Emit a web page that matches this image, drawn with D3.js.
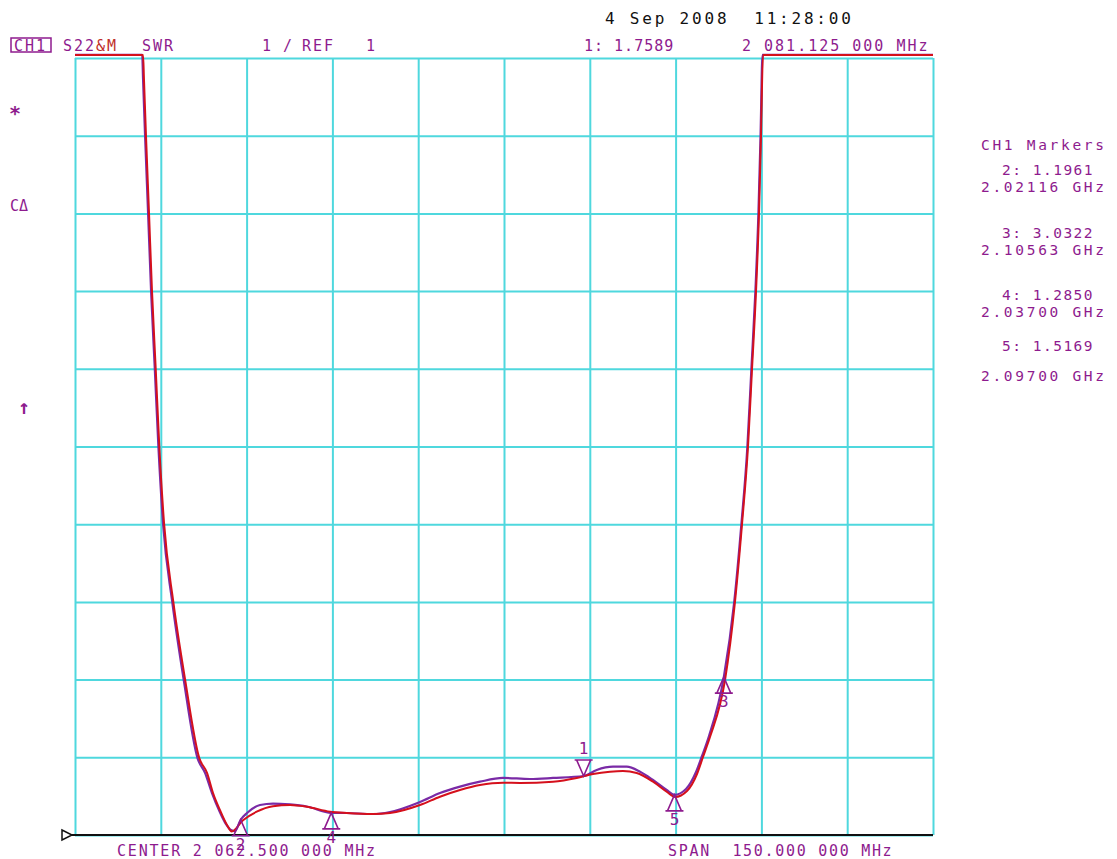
<!DOCTYPE html>
<html>
<head>
  <meta charset="utf-8">
  <style>
    body {
      margin: 0;
      background-color: #ffffff;
    }
    svg {
      display: block;
      background-color: #ffffff;
    }
    text {
      font-family: "DejaVu Sans Mono", monospace;
      white-space: pre;
    }
  </style>
</head>
<body>

  <div id="chart_swr"></div>

  <script src="https://d3js.org/d3.v7.min.js"></script>
  <script>

    // trace values: frequency (MHz) / SWR
    // 11.04 = trace pinned above the top of the screen
    var freqMem = [1992.2, 2004.1, 2004.26, 2004.61, 2005.14, 2005.66, 2006.31, 2006.94, 2007.76, 2009.39,
      2011.43, 2013.93, 2015.28, 2016.33, 2017.55, 2018.77, 2019.6, 2021.57, 2023.97, 2026.82,
      2029.79, 2032.71, 2036.78, 2039.7, 2044.3, 2047.27, 2052.51, 2056.01, 2059.51, 2063.0,
      2067.03, 2070.0, 2075.77, 2079.91, 2082.76, 2085.73, 2088.0, 2090.4, 2093.25, 2095.64,
      2097.1, 2099.19, 2100.94, 2101.99, 2103.21, 2105.84, 2107.58, 2108.81, 2109.86, 2110.56,
      2111.26, 2111.78, 2112.13, 2112.48, 2142.2]
    var swrMem = [11.04, 11.04, 10.72, 10.0, 9.0, 8.0, 7.0, 6.0, 5.02, 4.0,
      3.01, 1.99, 1.80, 1.54, 1.32, 1.13, 1.045, 1.19, 1.30, 1.37,
      1.386, 1.364, 1.30, 1.283, 1.27, 1.283, 1.386, 1.493, 1.579, 1.643,
      1.673, 1.669, 1.686, 1.734, 1.785, 1.815, 1.824, 1.798, 1.686, 1.557,
      1.489, 1.566, 1.785, 2.004, 2.261, 2.995, 4.0, 5.0, 6.0, 7.0,
      8.0, 9.0, 10.0, 11.04, 11.04]

    var freqData = [1992.2, 2003.95, 2004.1, 2004.45, 2004.98, 2005.5, 2006.15, 2006.78, 2007.6, 2009.2,
      2011.2, 2013.62, 2014.93, 2016.15, 2017.37, 2018.6, 2019.47, 2020.17, 2021.16, 2022.27,
      2024.54, 2026.82, 2029.79, 2032.71, 2037.0, 2039.7, 2044.3, 2047.27, 2052.51, 2056.01,
      2059.51, 2063.0, 2067.03, 2071.75, 2075.77, 2081.125, 2083.41, 2086.26, 2088.65, 2090.98,
      2093.25, 2095.64, 2097.0, 2099.02, 2100.77, 2101.82, 2103.04, 2105.63, 2107.45, 2108.7,
      2109.75, 2110.45, 2111.15, 2111.68, 2112.05, 2112.4, 2142.2]
    var swrData = [11.04, 11.04, 10.72, 10.0, 9.0, 8.0, 7.0, 6.0, 5.0, 4.0,
      3.0, 1.99, 1.80, 1.54, 1.32, 1.14, 1.064, 1.05, 1.1961, 1.283,
      1.386, 1.405, 1.393, 1.367, 1.285, 1.283, 1.27, 1.296, 1.425, 1.54,
      1.622, 1.686, 1.734, 1.721, 1.734, 1.7589, 1.837, 1.879, 1.879, 1.815,
      1.708, 1.579, 1.5169, 1.592, 1.811, 2.017, 2.274, 3.0322, 4.0, 5.0,
      6.0, 7.0, 8.0, 9.0, 10.0, 11.04, 11.04]

    // markers
    var markerIds = ["1", "2", "3", "4", "5"]
    var markerFreqs = [2081.125, 2021.16, 2105.63, 2037.0, 2097.0]
    var markerSwrs = [1.7589, 1.1961, 3.0322, 1.2850, 1.5169]
    var markerPointDown = [true, false, false, false, false]

    // grid: 10 divisions each way
    var freqStart = 1992.2
    var freqPerDiv = 15
    var swrRef = 1
    var swrPerDiv = 1

    var headerTexts = ["CH1", "S22", "&M", "SWR", "1", "/", "REF", "1", "1: 1.7589", "2 081.125 000 MHz"]
    var dateText = "4 Sep 2008  11:28:00"
    var footerTexts = ["CENTER 2 062.500 000 MHz", "SPAN  150.000 000 MHz"]
    var markerListLines = ["CH1 Markers", "2: 1.1961", "2.02116 GHz", "3: 3.0322", "2.10563 GHz",
      "4: 1.2850", "2.03700 GHz", "5: 1.5169", "2.09700 GHz"]
    var sideSymbols = ["*", "C\u0394", "\u2191"]

    var purple = "#8e1b8e"
    var traceRed = "#d5101c"
    var tracePurple = "#7a2aa6"
    var gridCyan = "#4fd8de"

    var draw_chart = function () {
      var left = 75, right = 933, top = 58, bottom = 835

      d3.selectAll('svg').remove()

      var svg = d3.select("#chart_swr")
          .append('svg')
          .attr("width", 1117)
          .attr("height", 859)

      var x = d3.scaleLinear()
          .domain([freqStart, freqStart + 10 * freqPerDiv])
          .range([left, right])

      var y = d3.scaleLinear()
          .domain([swrRef, swrRef + 10 * swrPerDiv])
          .range([bottom, top])

      var xTicks = d3.range(11).map(i => freqStart + i * freqPerDiv)
      var yTicks = d3.range(11).map(i => swrRef + i * swrPerDiv)

      // grid through the axes
      svg.append("g")
          .attr("transform", "translate(0," + bottom + ")")
          .call(d3.axisBottom(x).tickValues(xTicks).tickSize(-(bottom - top)).tickFormat(""))
      svg.append("g")
          .attr("transform", "translate(" + left + ",0)")
          .call(d3.axisLeft(y).tickValues(yTicks).tickSize(-(right - left)).tickFormat(""))
      svg.selectAll(".domain").remove()
      svg.selectAll(".tick line")
          .attr("stroke", gridCyan)
          .attr("stroke-width", 2)

      // bottom reference line with its little arrow
      svg.append("line")
          .attr("x1", left - 7).attr("x2", right)
          .attr("y1", y(swrRef)).attr("y2", y(swrRef))
          .attr("stroke", "#111")
          .attr("stroke-width", 2)
      svg.append("path")
          .attr("d", "M" + (left - 13) + "," + (y(swrRef) - 5) + " L" + (left - 3) + "," + y(swrRef) +
              " L" + (left - 13) + "," + (y(swrRef) + 5) + " Z")
          .attr("fill", "#fff")
          .attr("stroke", "#111")
          .attr("stroke-width", 1.5)

      var line = d3.line()
          .curve(d3.curveMonotoneX)
          .x(d => x(d[0]))
          .y(d => y(d[1]))

      var dataPts = freqData.map((f, i) => [f, swrData[i]])
      var memPts = freqMem.map((f, i) => [f, swrMem[i]])

      svg.append("path")
          .datum(dataPts)
          .attr("d", line)
          .attr("fill", "none")
          .attr("stroke", tracePurple)
          .attr("stroke-width", 2.2)

      svg.append("path")
          .datum(memPts)
          .attr("d", line)
          .attr("fill", "none")
          .attr("stroke", traceRed)
          .attr("stroke-width", 2)

      // marker triangles
      var markers = markerIds.map((id, i) => ({
        id: id, f: markerFreqs[i], s: markerSwrs[i], down: markerPointDown[i]
      }))

      var mg = svg.append("g")
          .selectAll("g")
          .data(markers)
          .enter()
          .append("g")
          .attr("transform", d => "translate(" + x(d.f) + "," + y(d.s) + ")")

      mg.append("path")
          .attr("d", function (d) {
            var h = d.down ? -16 : 16
            return "M0,0 L-7," + h + " L7," + h + " Z M-9," + h + " L9," + h
          })
          .attr("fill", "none")
          .attr("stroke", purple)
          .attr("stroke-width", 1.6)

      mg.append("text")
          .attr("x", 0)
          .attr("y", d => d.down ? -22 : 30)
          .attr("text-anchor", "middle")
          .attr("fill", purple)
          .style("font-size", "16px")
          .text(d => d.id)

      // header
      svg.append("rect")
          .attr("x", 11).attr("y", 38)
          .attr("width", 40).attr("height", 14)
          .attr("fill", "none")
          .attr("stroke", purple)
          .attr("stroke-width", 1.5)

      var headerX = [14, 63, 96, 142, 262, 283, 302, 366, 584, 742]
      var headerSpacing = [2, 2, 2, 2, 2, 2, 2, 2, 1, 2]
      var headerColor = [purple, purple, "#c0302a", purple, purple, purple, purple, purple, purple, purple]
      svg.append("g")
          .selectAll("text")
          .data(headerTexts)
          .enter()
          .append("text")
          .attr("x", (d, i) => headerX[i])
          .attr("y", 51)
          .attr("fill", (d, i) => headerColor[i])
          .style("font-size", "15px")
          .style("letter-spacing", (d, i) => headerSpacing[i] + "px")
          .text(d => d)

      svg.append("text")
          .attr("x", 605)
          .attr("y", 24)
          .attr("fill", "#111")
          .style("font-size", "16px")
          .style("letter-spacing", "2.8px")
          .text(dateText)

      // footer
      var footerX = [117, 668]
      svg.append("g")
          .selectAll("text")
          .data(footerTexts)
          .enter()
          .append("text")
          .attr("x", (d, i) => footerX[i])
          .attr("y", 856)
          .attr("fill", purple)
          .style("font-size", "15px")
          .style("letter-spacing", (d, i) => i === 0 ? "1.8px" : "1.7px")
          .text(d => d)

      // marker list on the right
      var listX = [981, 1002, 981, 1002, 981, 1002, 981, 1002, 981]
      var listY = [150, 175, 192, 238, 255, 300, 317, 351, 381]
      var listSpacing = [2.4, 1.2, 2.4, 1.2, 2.4, 1.2, 2.4, 1.2, 2.4]
      svg.append("g")
          .selectAll("text")
          .data(markerListLines)
          .enter()
          .append("text")
          .attr("x", (d, i) => listX[i])
          .attr("y", (d, i) => listY[i])
          .attr("fill", purple)
          .style("font-size", "14.5px")
          .style("letter-spacing", (d, i) => (listSpacing[i] + 0.3) + "px")
          .text(d => d)

      // softkey symbols on the left
      var symX = [9, 10, 18]
      var symY = [120, 211, 414]
      var symSize = [20, 15, 20]
      svg.append("g")
          .selectAll("text")
          .data(sideSymbols)
          .enter()
          .append("text")
          .attr("x", (d, i) => symX[i])
          .attr("y", (d, i) => symY[i])
          .attr("fill", purple)
          .style("font-size", (d, i) => symSize[i] + "px")
          .style("font-weight", (d, i) => i === 1 ? "normal" : "bold")
          .text(d => d)

    } // end of draw_chart()

    draw_chart()

  </script>

</body>
</html>
